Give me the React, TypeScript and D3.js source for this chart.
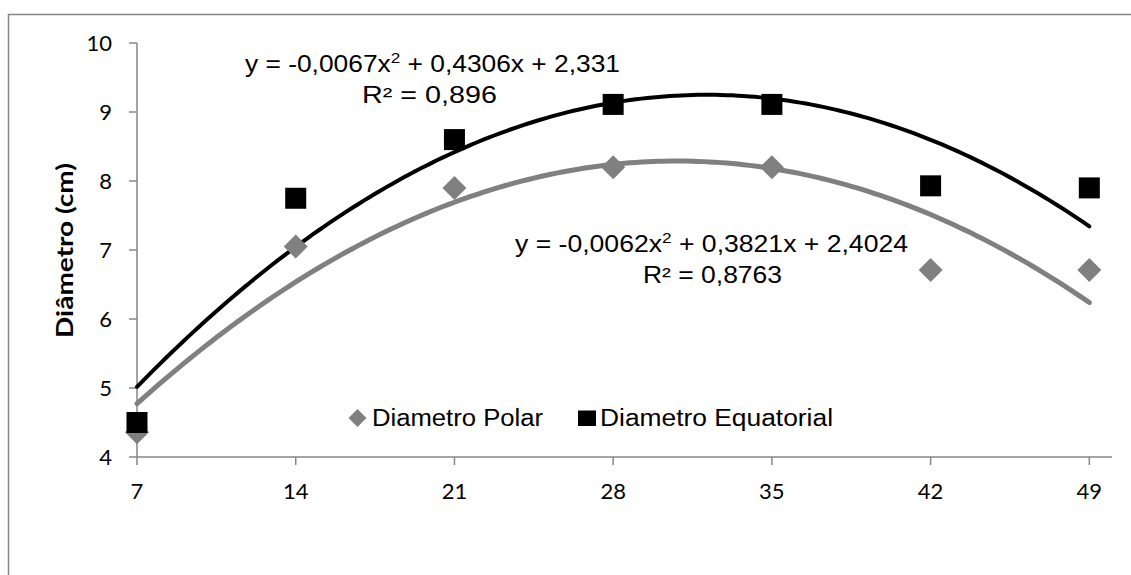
import React from "react";
import * as d3 from "d3";

const days = [7, 14, 21, 28, 35, 42, 49];
const polar = [4.36, 7.05, 7.9, 8.2, 8.2, 6.71, 6.71];
const equatorial = [4.5, 7.75, 8.6, 9.11, 9.11, 7.93, 7.9];
const yTicks = [4, 5, 6, 7, 8, 9, 10];
// trendline coefficients [a, b, c] from the chart's equations
const polarCoef = [-0.0062, 0.3821, 2.4024];
const equatorialCoef = [-0.0067, 0.4306, 2.331];

const W = 1131;
const H = 575;

export default function App() {
  const x = d3.scaleLinear().domain([7, 50]).range([137, 1112]);
  const y = d3.scaleLinear().domain([4, 10]).range([457, 43]);
  const xs = d3.range(7, 49.001, 0.25);
  const curve = (c: number[]) =>
    d3
      .line<number>()
      .x((d) => x(d))
      .y((d) => y(c[0] * d * d + c[1] * d + c[2]))(xs) || "";
  const axisColor = "#868686";
  const tickFont = "Lato, 'Open Sans', sans-serif";
  const eqFont = "'Liberation Sans', Arial, sans-serif";
  const diamond = (cx: number, cy: number, r: number) =>
    `M${cx},${cy - r}L${cx + r},${cy}L${cx},${cy + r}L${cx - r},${cy}Z`;

  return (
    <svg
      width={W}
      height={H}
      style={{ position: "absolute", left: 0, top: 0, background: "#fff" }}
    >
      <rect x={8.5} y={14.5} width={1140} height={620} fill="#fff" stroke={axisColor} strokeWidth={1.5} />
      {/* axes */}
      <line x1={137} x2={137} y1={y(10)} y2={y(4)} stroke={axisColor} strokeWidth={1.5} />
      <line x1={137} x2={1112} y1={y(4)} y2={y(4)} stroke={axisColor} strokeWidth={1.5} />
      {yTicks.map((t) => (
        <g key={"y" + t}>
          <line x1={129} x2={137} y1={y(t)} y2={y(t)} stroke={axisColor} strokeWidth={1.5} />
          <text x={112} y={y(t) + 8} textAnchor="end" fontFamily={tickFont} fontSize={22} fill="#000">
            {t}
          </text>
        </g>
      ))}
      {days.map((t) => (
        <g key={"x" + t}>
          <line x1={x(t)} x2={x(t)} y1={457} y2={465} stroke={axisColor} strokeWidth={1.5} />
          <text x={x(t)} y={499} textAnchor="middle" fontFamily={tickFont} fontSize={22} fill="#000">
            {t}
          </text>
        </g>
      ))}
      <text
        transform={`translate(73,250.5) rotate(-90)`}
        textAnchor="middle"
        fontFamily={tickFont}
        fontWeight="bold"
        fontSize={23.5}
        textLength={175}
        lengthAdjust="spacingAndGlyphs"
        fill="#000"
      >
        Diâmetro (cm)
      </text>
      {/* trendlines */}
      <path d={curve(polarCoef)} fill="none" stroke="#808080" strokeWidth={5} strokeLinecap="round" />
      <path d={curve(equatorialCoef)} fill="none" stroke="#000" strokeWidth={4} strokeLinecap="round" />
      {/* markers */}
      {days.map((d, i) => (
        <path key={"p" + d} d={diamond(x(d), y(polar[i]), 12)} fill="#808080" />
      ))}
      {days.map((d, i) => (
        <rect key={"e" + d} x={x(d) - 10.5} y={y(equatorial[i]) - 10.5} width={21} height={21} fill="#000" />
      ))}
      {/* equations */}
      <g fontFamily={eqFont} fontSize={23} fill="#000">
        <text x={245} y={72} textLength={375} lengthAdjust="spacingAndGlyphs">
          y = -0,0067x<tspan dy={-9} fontSize={15}>2</tspan>
          <tspan dy={9}> + 0,4306x + 2,331</tspan>
        </text>
        <text x={362} y={103} textLength={135} lengthAdjust="spacingAndGlyphs">R² = 0,896</text>
        <text x={515} y={252} textLength={393} lengthAdjust="spacingAndGlyphs">
          y = -0,0062x<tspan dy={-9} fontSize={15}>2</tspan>
          <tspan dy={9}> + 0,3821x + 2,4024</tspan>
        </text>
        <text x={643} y={283} textLength={139} lengthAdjust="spacingAndGlyphs">R² = 0,8763</text>
      </g>
      {/* legend */}
      <path d={diamond(357.5, 418, 9)} fill="#808080" />
      <text x={372} y={426} fontFamily={eqFont} fontSize={23} textLength={171} lengthAdjust="spacingAndGlyphs" fill="#000">
        Diametro Polar
      </text>
      <rect x={578} y={410.5} width={18} height={15.5} fill="#000" />
      <text x={600} y={426} fontFamily={eqFont} fontSize={23} textLength={233} lengthAdjust="spacingAndGlyphs" fill="#000">
        Diametro Equatorial
      </text>
    </svg>
  );
}
